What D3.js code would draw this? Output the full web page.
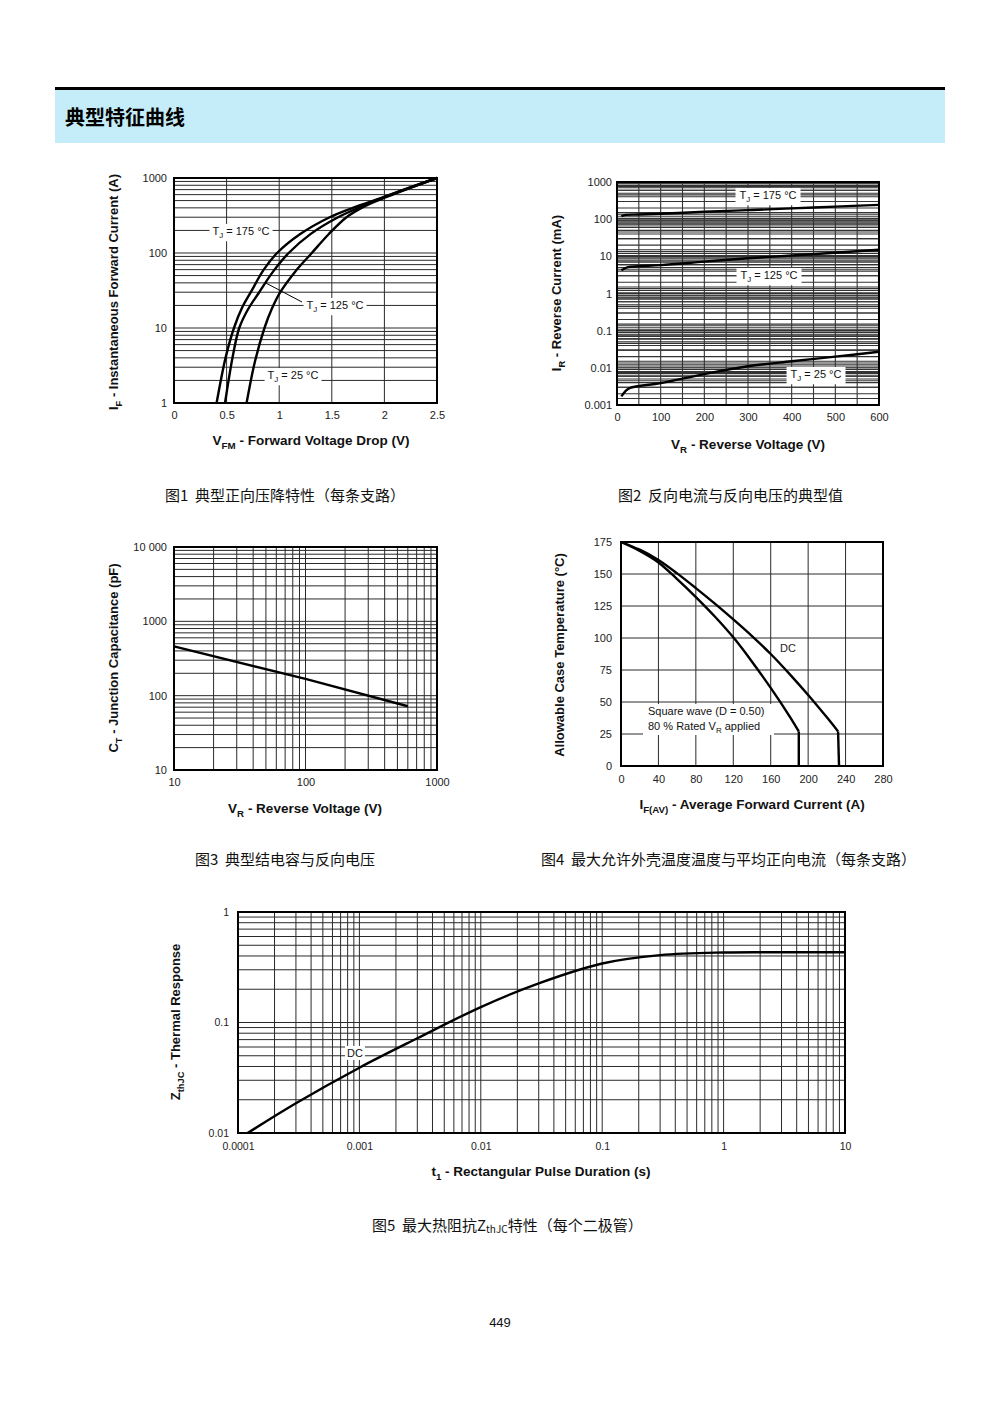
<!DOCTYPE html>
<html><head><meta charset="utf-8">
<script src="https://cdn.jsdelivr.net/npm/d3@7/dist/d3.min.js"></script>
<style>body{margin:0;background:#fff}svg{display:block}</style>
</head><body>
<script>
// ---------- DATA ----------
// Fig 1: forward voltage (V) vs instantaneous forward current (A)
const fig1_T175 = [[0.405,1],[0.49,4],[0.57,10],[0.65,19],[0.73,30],[0.85,59],[0.98,100],[1.2,179],[1.48,300],[1.7,400],[2.0,560],[2.5,1000]];
const fig1_T125 = [[0.485,1],[0.56,4.3],[0.62,10],[0.70,17.4],[0.81,30],[0.94,56],[1.09,100],[1.3,180],[1.56,300],[1.78,415],[2.0,560],[2.5,1000]];
const fig1_T25  = [[0.69,1],[0.77,3.6],[0.86,10],[0.93,18],[1.01,30],[1.15,56],[1.31,100],[1.47,178],[1.64,300],[1.82,425],[2.02,560],[2.5,1000]];
const fig1_xTicks = [0,0.5,1,1.5,2,2.5];
const fig1_xLabels = ["0","0.5","1","1.5","2","2.5"];
const fig1_yTicks = [1,10,100,1000];
const fig1_yLabels = ["1","10","100","1000"];

// Fig 2: reverse voltage (V) vs reverse current (mA)
const fig2_T175 = [[10,120],[20,130],[50,133],[100,140],[200,158],[300,175],[400,195],[500,218],[600,243]];
const fig2_T125 = [[10,4.2],[25,5.1],[50,5.4],[100,5.8],[200,7.2],[300,8.9],[400,10.5],[500,12.5],[600,15]];
const fig2_T25  = [[10,0.0017],[20,0.0024],[30,0.0029],[100,0.0039],[200,0.0068],[300,0.011],[400,0.015],[500,0.02],[600,0.027]];
const fig2_xTicks = [0,100,200,300,400,500,600];
const fig2_xLabels = ["0","100","200","300","400","500","600"];
const fig2_yTicks = [0.001,0.01,0.1,1,10,100,1000];
const fig2_yLabels = ["0.001","0.01","0.1","1","10","100","1000"];

// Fig 3: reverse voltage (V) vs junction capacitance (pF)
const fig3_CT = [[10,460],[100,168],[600,72]];
const fig3_xTicks = [10,100,1000];
const fig3_xLabels = ["10","100","1000"];
const fig3_yTicks = [10,100,1000,10000];
const fig3_yLabels = ["10","100","1000","10 000"];

// Fig 4: average forward current (A) vs allowable case temperature (°C)
const fig4_DC = [[0,175],[20,169],[40,161],[60,150.5],[80,139],[100,127],[120,114.5],[140,101.5],[160,87.5],[180,72],[200,55.5],[220,38],[232,27]];
const fig4_DC_drop = [[232,27],[233,0]];
const fig4_SQ = [[0,175],[20,168],[40,159],[60,146],[80,132],[100,117],[120,100.5],[140,81.5],[160,61],[180,39],[190,27]];
const fig4_SQ_drop = [[190,27],[190,0]];
const fig4_xTicks = [0,40,80,120,160,200,240,280];
const fig4_xLabels = ["0","40","80","120","160","200","240","280"];
const fig4_yTicks = [0,25,50,75,100,125,150,175];
const fig4_yLabels = ["0","25","50","75","100","125","150","175"];

// Fig 5: pulse duration (s) vs thermal response
const fig5_DC = [[1.2e-4,0.01],[3e-4,0.0186],[0.001,0.039],[0.003,0.072],[0.01,0.138],[0.03,0.226],[0.1,0.342],[0.3,0.407],[1,0.43],[3,0.432],[10,0.432]];
const fig5_xTicks = [0.0001,0.001,0.01,0.1,1,10];
const fig5_xLabels = ["0.0001","0.001","0.01","0.1","1","10"];
const fig5_yTicks = [0.01,0.1,1];
const fig5_yLabels = ["0.01","0.1","1"];

// ---------- RENDER ----------
const LAT = "'Liberation Sans', Arial, sans-serif";
const CJK = "'Noto Sans CJK SC', sans-serif";
const svg = d3.select("body").append("svg").attr("width",1000).attr("height",1414);
svg.append("rect").attr("width",1000).attr("height",1414).attr("fill","#fff");

// header
svg.append("rect").attr("x",55).attr("y",87).attr("width",890).attr("height",3).attr("fill","#000");
svg.append("rect").attr("x",55).attr("y",90).attr("width",890).attr("height",53).attr("fill","#c4ecf9");
svg.append("text").attr("x",65).attr("y",125).attr("font-family",CJK).attr("font-weight",700)
  .attr("font-size",20).attr("fill","#000").text("典型特征曲线");

function logGrid(lo, hi){
  const out=[];
  for(let d=Math.floor(Math.log10(lo)); d<=Math.ceil(Math.log10(hi)); d++){
    for(let m=1;m<=9;m++){ const v=m*Math.pow(10,d); if(v>=lo*0.999 && v<=hi*1.001) out.push(v); }
  }
  return out;
}

function addRich(g, x, y, parts, size, opts={}){
  const t = g.append("text").attr("x",x).attr("y",y).attr("font-family",LAT)
    .attr("font-size",size).attr("fill","#111")
    .attr("font-weight",opts.bold?700:400)
    .attr("text-anchor",opts.anchor||"middle");
  if(opts.rotate) t.attr("transform",`rotate(-90,${x},${y})`);
  let prevSub=false;
  parts.forEach(p=>{
    const s = t.append("tspan").text(p[0]);
    if(p[1]){ s.attr("font-size", size*0.72).attr("dy", size*0.3); }
    else if(prevSub){ s.attr("dy", -size*0.3); }
    prevSub = !!p[1];
  });
  return t;
}
function boxLabel(g, cx, cy, parts, size, pad=3){
  const t = addRich(g, cx, cy+size*0.36, parts, size);
  const bb = t.node().getBBox();
  g.insert("rect", () => t.node()).attr("x",bb.x-pad).attr("y",bb.y-1).attr("width",bb.width+2*pad)
    .attr("height",bb.height+2).attr("fill","#fff");
  return t;
}

function panel(o){
  const g = svg.append("g");
  const x = (o.xLog? d3.scaleLog(): d3.scaleLinear()).domain(o.xDomain).range([o.left,o.right]);
  const y = (o.yLog? d3.scaleLog(): d3.scaleLinear()).domain(o.yDomain).range([o.bottom,o.top]);
  g.append("rect").attr("x",o.left).attr("y",o.top).attr("width",o.right-o.left).attr("height",o.bottom-o.top).attr("fill","#fff");
  g.selectAll("line.gx").data(o.xGrid).join("line").attr("class","gx")
    .attr("x1",d=>x(d)).attr("x2",d=>x(d)).attr("y1",o.top).attr("y2",o.bottom)
    .attr("stroke",o.gridColor||"#2a2a2a").attr("stroke-width",o.gridW||1);
  g.selectAll("line.gy").data(o.yGrid).join("line").attr("class","gy")
    .attr("y1",d=>y(d)).attr("y2",d=>y(d)).attr("x1",o.left).attr("x2",o.right)
    .attr("stroke",o.gridColor||"#2a2a2a").attr("stroke-width",o.gridW||1);
  g.append("rect").attr("x",o.left).attr("y",o.top).attr("width",o.right-o.left).attr("height",o.bottom-o.top)
    .attr("fill","none").attr("stroke","#000").attr("stroke-width",2);
  const fs = o.tickFs||11;
  const ax = g.append("g").attr("transform",`translate(0,${o.bottom})`)
    .call(d3.axisBottom(x).tickValues(o.xTicks).tickFormat((d,i)=>o.xLabels[i]).tickSize(0).tickPadding(o.xPad||8));
  const ay = g.append("g").attr("transform",`translate(${o.left},0)`)
    .call(d3.axisLeft(y).tickValues(o.yTicks).tickFormat((d,i)=>o.yLabels[i]).tickSize(0).tickPadding(o.yPad||7));
  [ax,ay].forEach(a=>{
    a.select(".domain").remove();
    a.attr("font-family",LAT).attr("font-size",fs);
    a.selectAll("text").attr("fill","#222");
  });
  return {g,x,y};
}

function curve(p, data, interp){
  p.g.append("path").datum(data)
    .attr("d", d3.line().x(d=>p.x(d[0])).y(d=>p.y(d[1])).curve(interp||d3.curveCatmullRom.alpha(0.5)))
    .attr("fill","none").attr("stroke","#000").attr("stroke-width",2.4).attr("stroke-linejoin","round");
}

function caption(x, y, text){
  svg.append("text").attr("x",x).attr("y",y).attr("font-family",CJK).attr("font-size",15)
    .attr("fill","#111").text(text);
}

// ---- Figure 1 ----
{
  const p = panel({left:174,right:437,top:178,bottom:403,xDomain:[0,2.5],yDomain:[1,1000],yLog:true,
    xGrid:[0.5,1,1.5,2], yGrid:logGrid(1,1000),
    xTicks:fig1_xTicks,xLabels:fig1_xLabels,yTicks:fig1_yTicks,yLabels:fig1_yLabels});
  curve(p, fig1_T175); curve(p, fig1_T125); curve(p, fig1_T25);
  p.g.append("line").attr("x1",p.x(0.87)).attr("y1",p.y(40)).attr("x2",302).attr("y2",302)
    .attr("stroke","#000").attr("stroke-width",1);
  boxLabel(p.g, 241, 231, [["T"],["J",1],[" = 175 °C"]], 11);
  boxLabel(p.g, 335, 305, [["T"],["J",1],[" = 125 °C"]], 11);
  boxLabel(p.g, 293, 375, [["T"],["J",1],[" = 25 °C"]], 11);
  addRich(svg, 311, 445, [["V"],["FM",1],[" - Forward Voltage Drop (V)"]], 13.5, {bold:true});
  addRich(svg, 118, 292, [["I"],["F",1],[" - Instantaneous Forward Current (A)"]], 13, {bold:true, rotate:true});
}
// ---- Figure 2 ----
{
  const p = panel({left:617,right:879,top:182,bottom:405,xDomain:[0,600],yDomain:[0.001,1000],yLog:true,
    xGrid:d3.range(50,600,50), yGrid:logGrid(0.001,1000).concat(logGrid(0.001,1000).map(v=>v*1.5)).filter(v=>v<=1000),
    gridColor:"#333", gridW:1.1,
    xTicks:fig2_xTicks,xLabels:fig2_xLabels,yTicks:fig2_yTicks,yLabels:fig2_yLabels,yPad:5});
  curve(p, fig2_T175); curve(p, fig2_T125); curve(p, fig2_T25);
  boxLabel(p.g, 768, 195, [["T"],["J",1],[" = 175 °C"]], 11, 4);
  boxLabel(p.g, 769, 275, [["T"],["J",1],[" = 125 °C"]], 11, 4);
  boxLabel(p.g, 816, 374, [["T"],["J",1],[" = 25 °C"]], 11, 4);
  addRich(svg, 748, 449, [["V"],["R",1],[" - Reverse Voltage (V)"]], 13.5, {bold:true});
  addRich(svg, 561, 293, [["I"],["R",1],[" - Reverse Current (mA)"]], 13, {bold:true, rotate:true});
}
// ---- Figure 3 ----
{
  const p = panel({left:174,right:437,top:547,bottom:770,xDomain:[10,1000],yDomain:[10,10000],xLog:true,yLog:true,
    xGrid:logGrid(10,1000), yGrid:logGrid(10,10000),
    xTicks:fig3_xTicks,xLabels:fig3_xLabels,yTicks:fig3_yTicks,yLabels:fig3_yLabels});
  curve(p, fig3_CT, d3.curveLinear);
  addRich(svg, 305, 813, [["V"],["R",1],[" - Reverse Voltage (V)"]], 13.5, {bold:true});
  addRich(svg, 118, 658, [["C"],["T",1],[" - Junction Capacitance (pF)"]], 13, {bold:true, rotate:true});
}
// ---- Figure 4 ----
{
  const p = panel({left:621,right:883,top:542,bottom:766,xDomain:[0,280],yDomain:[0,175],
    xGrid:d3.range(40,280,40), yGrid:d3.range(25,175,25),
    xTicks:fig4_xTicks,xLabels:fig4_xLabels,yTicks:fig4_yTicks,yLabels:fig4_yLabels,yPad:9,xPad:9});
  p.g.append("rect").attr("x",643).attr("y",704).attr("width",131).attr("height",31).attr("fill","#fff");
  curve(p, fig4_DC); curve(p, fig4_DC_drop, d3.curveLinear);
  curve(p, fig4_SQ); curve(p, fig4_SQ_drop, d3.curveLinear);
  p.g.append("text").attr("x",788).attr("y",652).attr("text-anchor","middle").attr("font-family",LAT)
    .attr("font-size",11).attr("fill","#222").text("DC");
  addRich(p.g, 648, 715, [["Square wave (D = 0.50)"]], 11, {anchor:"start"});
  addRich(p.g, 648, 730, [["80 % Rated V"],["R",1],[" applied"]], 11, {anchor:"start"});
  addRich(svg, 752, 809, [["I"],["F(AV)",1],[" - Average Forward Current (A)"]], 13.5, {bold:true});
  addRich(svg, 564, 655, [["Allowable Case Temperature (°C)"]], 13, {bold:true, rotate:true});
}
// ---- Figure 5 ----
{
  const p = panel({left:238,right:845,top:912,bottom:1133,xDomain:[0.0001,10],yDomain:[0.01,1],xLog:true,yLog:true,
    xGrid:logGrid(0.0001,10), yGrid:logGrid(0.01,1),
    xTicks:fig5_xTicks,xLabels:fig5_xLabels,yTicks:fig5_yTicks,yLabels:fig5_yLabels,tickFs:10.5,yPad:9,xPad:10});
  curve(p, fig5_DC);
  boxLabel(p.g, 355, 1053, [["DC"]], 11, 2);
  addRich(svg, 541, 1176, [["t"],["1",1],[" - Rectangular Pulse Duration (s)"]], 13.5, {bold:true});
  addRich(svg, 180, 1022, [["Z"],["thJC",1],[" - Thermal Response"]], 13, {bold:true, rotate:true});
}

// captions
caption(165, 501, "图1\u00a0\u00a0典型正向压降特性（每条支路）");
caption(618, 501, "图2\u00a0\u00a0反向电流与反向电压的典型值");
caption(195, 865, "图3\u00a0\u00a0典型结电容与反向电压");
caption(541, 865, "图4\u00a0\u00a0最大允许外壳温度温度与平均正向电流（每条支路）");
{
  const t = svg.append("text").attr("x",372).attr("y",1231).attr("font-family",CJK).attr("font-size",15).attr("fill","#111");
  t.append("tspan").text("图5\u00a0\u00a0最大热阻抗Z");
  t.append("tspan").attr("font-size",10).attr("dy",2).text("thJC");
  t.append("tspan").attr("dy",-2).text("特性（每个二极管）");
}
svg.append("text").attr("x",500).attr("y",1327).attr("text-anchor","middle").attr("font-family",LAT)
  .attr("font-size",13).attr("fill","#111").text("449");
</script>
</body></html>
